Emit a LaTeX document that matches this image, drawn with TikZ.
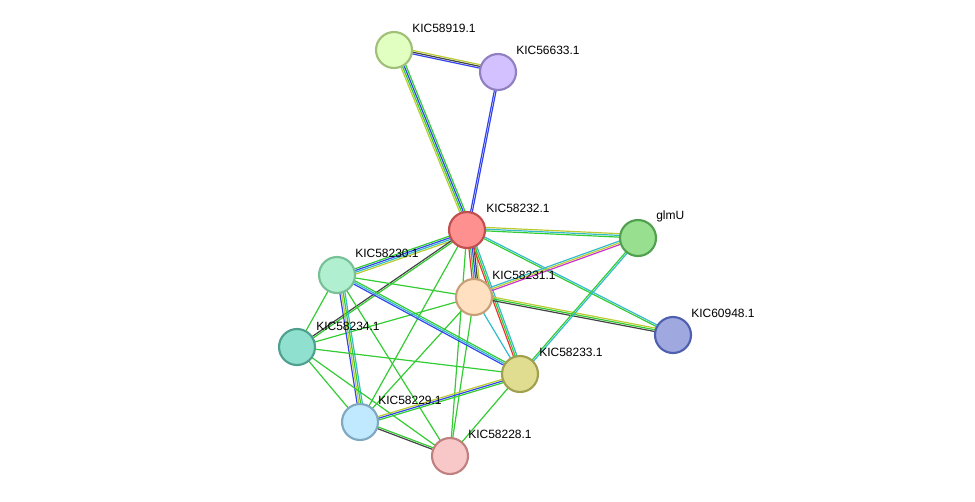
\documentclass[tikz,border=0pt]{standalone}
\usepackage{fontspec}
\setmainfont{Liberation Sans}
\usetikzlibrary{calc}
\definecolor{cG}{HTML}{33CC33}
\definecolor{cB}{HTML}{3344EE}
\definecolor{cY}{HTML}{BBCC33}
\definecolor{cK}{HTML}{444444}
\definecolor{cC}{HTML}{33BBCC}
\definecolor{cR}{HTML}{EE3333}
\definecolor{cM}{HTML}{CC33CC}
\newcommand{\edge}[3]{%
  \foreach \c [count=\i] in {#3} {%
    \pgfmathsetmacro{\o}{(\i-1)*1.3}%
    \draw[\c,line width=0.9pt] ($(#1)!\o pt!90:(#2)$) -- ($(#2)!\o pt!-90:(#1)$);
  }}
\tikzset{prot/.style={circle,minimum size=27pt,inner sep=0pt,line width=1.6pt},
  lab/.style={anchor=west,font=\fontsize{9pt}{10pt}\selectfont,inner sep=0pt}}
\begin{document}
\begin{tikzpicture}[x=0.75pt,y=-0.75pt]
\useasboundingbox (0,0) rectangle (975,501);
\coordinate (a) at (394,50);
\coordinate (b) at (498,72);
\coordinate (c) at (467,230);
\coordinate (g) at (638,238);
\coordinate (d) at (337,275);
\coordinate (e) at (474,297);
\coordinate (f) at (673,335);
\coordinate (h) at (297,347);
\coordinate (i) at (520,374);
\coordinate (j) at (360,422);
\coordinate (k) at (450,456);
\edge{a}{b}{cB,cK,cY}
\edge{a}{c}{cY,cG,cB,cG}
\edge{b}{c}{cB,cB}
\edge{c}{g}{cG,cC,cY}
\edge{c}{d}{cG,cB,cC,cY}
\edge{c}{e}{cR,cG,cB,cK,cY}
\edge{c}{f}{cG,cC}
\edge{c}{i}{cR,cG,cC}
\edge{c}{h}{cK,cG}
\edge{c}{j}{cG}
\edge{c}{k}{cG}
\edge{e}{g}{cM,cY,cC}
\edge{e}{f}{cK,cG,cY}
\edge{e}{d}{cG}
\edge{e}{i}{cC}
\edge{e}{j}{cG}
\edge{e}{k}{cG}
\edge{e}{h}{cG}
\edge{d}{i}{cB,cC,cG}
\edge{d}{j}{cB,cY,cG,cC}
\edge{d}{h}{cG}
\edge{d}{k}{cG}
\edge{h}{i}{cG}
\edge{h}{j}{cG}
\edge{h}{k}{cG}
\edge{i}{j}{cY,cB,cG}
\edge{i}{k}{cG}
\edge{j}{k}{cK,cG}
\edge{g}{i}{cG,cC}
\node[prot,fill={rgb,255:red,224;green,255;blue,192},draw={rgb,255:red,160;green,192;blue,120}] (na) at (a) {};
\node[prot,fill={rgb,255:red,210;green,192;blue,255},draw={rgb,255:red,144;green,128;blue,192}] (nb) at (b) {};
\node[prot,fill={rgb,255:red,255;green,144;blue,144},draw={rgb,255:red,192;green,80;blue,80}] (nc) at (c) {};
\node[prot,fill={rgb,255:red,152;green,224;blue,144},draw={rgb,255:red,80;green,160;blue,80}] (ng) at (g) {};
\node[prot,fill={rgb,255:red,176;green,240;blue,208},draw={rgb,255:red,120;green,192;blue,150}] (nd) at (d) {};
\node[prot,fill={rgb,255:red,255;green,224;blue,192},draw={rgb,255:red,200;green,160;blue,120}] (ne) at (e) {};
\node[prot,fill={rgb,255:red,160;green,168;blue,224},draw={rgb,255:red,80;green,96;blue,176}] (nf) at (f) {};
\node[prot,fill={rgb,255:red,144;green,224;blue,208},draw={rgb,255:red,80;green,160;blue,144}] (nh) at (h) {};
\node[prot,fill={rgb,255:red,224;green,220;blue,144},draw={rgb,255:red,160;green,160;blue,80}] (ni) at (i) {};
\node[prot,fill={rgb,255:red,192;green,232;blue,255},draw={rgb,255:red,128;green,168;blue,192}] (nj) at (j) {};
\node[prot,fill={rgb,255:red,248;green,200;blue,200},draw={rgb,255:red,192;green,128;blue,128}] (nk) at (k) {};
\node[lab] (la) at (412,28) {KIC58919.1};
\node[lab] (lb) at (516,50) {KIC56633.1};
\node[lab] (lc) at (486,208) {KIC58232.1};
\node[lab] (lg) at (656,216) {glmU};
\node[lab] (ld) at (355,253) {KIC58230.1};
\node[lab] (le) at (492,275) {KIC58231.1};
\node[lab] (lf) at (691,313) {KIC60948.1};
\node[lab] (lh) at (316,326) {KIC58234.1};
\node[lab] (li) at (539,352) {KIC58233.1};
\node[lab] (lj) at (378,400) {KIC58229.1};
\node[lab] (lk) at (468,434) {KIC58228.1};
\end{tikzpicture}
\end{document}
